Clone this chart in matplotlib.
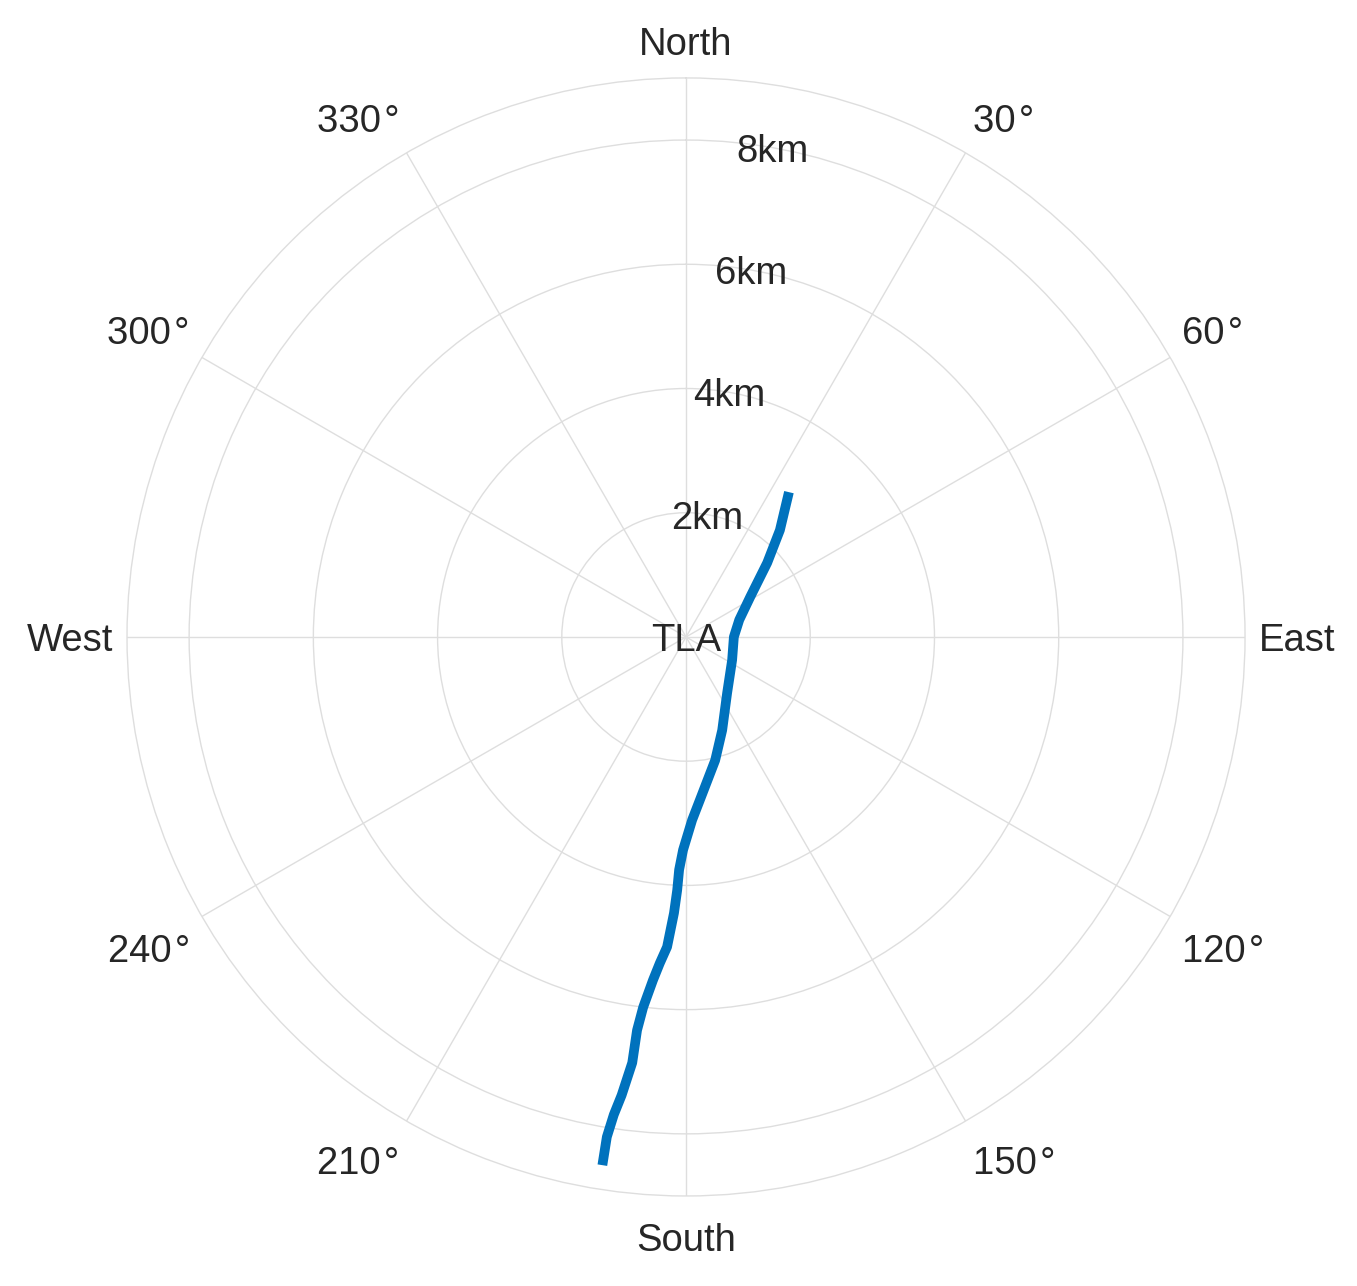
import numpy as np
import matplotlib
matplotlib.use("Agg")
import matplotlib.pyplot as plt

plt.rcParams['font.family'] = ['Liberation Sans', 'DejaVu Sans']

# Track: bearing (degrees clockwise from North) and distance (km) from TLA
bearing_deg = [35.4, 41.3, 47.6, 58.0, 72.2, 90.0, 116.6, 143.8, 158.8, 166.7,
               175.1, 178.1, 180.8, 181.7, 182.0, 182.5, 183.5, 184.6, 185.5,
               186.6, 187.1, 187.2, 188.0, 188.6, 189.0, 189.0]
distance_km = [2.86, 2.29, 1.77, 1.22, 0.90, 0.77, 0.83, 1.12, 1.61, 2.04,
               2.63, 2.95, 3.43, 3.75, 4.08, 4.45, 5.00, 5.27, 5.55,
               6.00, 6.38, 6.91, 7.45, 7.78, 8.15, 8.61]

theta_ticks = [0, 30, 60, 90, 120, 150, 180, 210, 240, 270, 300, 330]
theta_labels = ['North', '30\u200a°', '60\u200a°', 'East', '120\u200a°', '150\u200a°', 'South',
                '210\u200a°', '240\u200a°', 'West', '300\u200a°', '330\u200a°']
r_ticks = [2, 4, 6, 8]
r_labels = ['2km', '4km', '6km', '8km']
r_max = 9
center_label = 'TLA'

txt = '#262626'
grid = '#dedede'
fs = 27.5

fig = plt.figure(figsize=(13.57, 12.86), dpi=100)
ax = fig.add_axes([0.0936, 0.070, 0.8239, 0.8694], projection='polar')
ax.set_theta_zero_location('N')
ax.set_theta_direction(-1)

ax.plot(np.deg2rad(bearing_deg), distance_km, color='#0072BD', lw=7,
        solid_capstyle='butt', solid_joinstyle='round', zorder=3)

ax.set_rlim(0, r_max)
ax.set_xticks(np.deg2rad(theta_ticks))
ax.set_xticklabels([])
ax.set_yticks(r_ticks)
ax.set_yticklabels(r_labels, fontsize=fs, color=txt, ha='center', va='center_baseline')
ax.set_rlabel_position(10)
ax.grid(True, color=grid, lw=1.0)
ax.spines['polar'].set_color(grid)
ax.spines['polar'].set_linewidth(1.0)

# angular labels placed just outside the outer ring
offx = 14
offy = 19
for t, lab in zip(theta_ticks, theta_labels):
    s, c = np.sin(np.deg2rad(t)), np.cos(np.deg2rad(t))
    ha = 'left' if s > 0.01 else ('right' if s < -0.01 else 'center')
    va = 'baseline' if c > 0.01 else ('top' if c < -0.01 else 'center_baseline')
    dy_extra = 0
    if va == 'baseline':
        dy_extra = 4
    if va == 'top':
        dy_extra = -8
    ax.annotate(lab, xy=(np.deg2rad(t), r_max), xytext=(offx * s, offy * c + dy_extra),
                textcoords='offset pixels', ha=ha, va=va, fontsize=fs, color=txt,
                annotation_clip=False)

ax.text(0, 0, center_label, fontsize=fs, color=txt, ha='center',
        va='center_baseline', zorder=4)

fig.savefig('out.png', dpi=100)
